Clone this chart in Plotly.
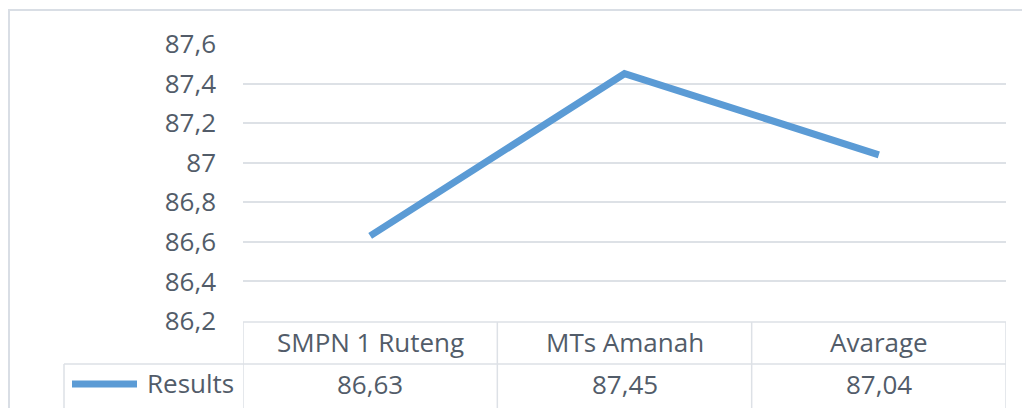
import plotly.graph_objects as go

categories = ["SMPN 1 Ruteng", "MTs Amanah", "Avarage"]
results = [86.63, 87.45, 87.04]
series_name = "Results"
tick_vals = [86.2, 86.4, 86.6, 86.8, 87.0, 87.2, 87.4, 87.6]
tick_text = ["86,2", "86,4", "86,6", "86,8", "87", "87,2", "87,4", "87,6"]

# page body has an 8px margin; figure is placed at (8, 8)
O = 8
W, H = 1022, 400
# plot area in page pixels: x 243..1006, y 44..321
L, R, T, B = 243 - O, W - (1006 - O), 44 - O, H - (321 - O)
PW, PH = W - L - R, H - T - B

def px(x):
    return (x - O - L) / PW

def py(y):
    return (H - B - (y - O)) / PH

TXT = "#525C69"
GRID = "#DDE1E6"
FONT = "Open Sans"
FS = 26
BLUE = "#5B9BD5"

fig = go.Figure()
fig.add_trace(go.Scatter(
    x=list(range(len(categories))), y=results, mode="lines",
    line=dict(color=BLUE, width=7), name=series_name, showlegend=False,
))

shapes = []
# outer chart border
shapes.append(dict(type="rect", xref="paper", yref="paper",
                   x0=px(9), x1=px(1040), y0=py(10), y1=py(420),
                   line=dict(color="#D9DEE5", width=2), layer="below"))
n = len(categories)
shapes.append(dict(type="line", xref="x", yref="paper", x0=-0.5, x1=n - 0.5,
                   y0=py(322), y1=py(322), line=dict(color=GRID, width=1.5)))
shapes.append(dict(type="line", xref="paper", yref="paper", x0=px(64), x1=1,
                   y0=py(364), y1=py(364), line=dict(color=GRID, width=1.5)))
shapes.append(dict(type="line", xref="paper", yref="paper", x0=px(64), x1=px(64),
                   y0=py(364), y1=py(420), line=dict(color=GRID, width=1.5)))
for i in range(n + 1):
    shapes.append(dict(type="line", xref="x", yref="paper", x0=i - 0.5, x1=i - 0.5,
                       y0=py(322), y1=py(420), line=dict(color=GRID, width=1.5)))
# legend key in table
shapes.append(dict(type="line", xref="paper", yref="paper", x0=px(72), x1=px(137),
                   y0=py(384), y1=py(384), line=dict(color=BLUE, width=7)))

annotations = []
for i, (c, v) in enumerate(zip(categories, results)):
    annotations.append(dict(x=i, y=py(342), xref="x", yref="paper", text=c,
                            showarrow=False, font=dict(family=FONT, size=FS, color=TXT),
                            xanchor="center", yanchor="middle"))
    annotations.append(dict(x=i, y=py(384), xref="x", yref="paper",
                            text=f"{v:.2f}".replace(".", ","),
                            showarrow=False, font=dict(family=FONT, size=FS, color=TXT),
                            xanchor="center", yanchor="middle"))
annotations.append(dict(x=px(236), y=py(383), xref="paper", yref="paper", text=series_name,
                        showarrow=False, font=dict(family=FONT, size=FS, color=TXT),
                        xanchor="right", yanchor="middle"))

fig.update_layout(
    width=W, height=H, margin=dict(l=L, r=R, t=T, b=B),
    paper_bgcolor="white", plot_bgcolor="white",
    showlegend=False, shapes=shapes, annotations=annotations,
    xaxis=dict(range=[-0.5, n - 0.5], showticklabels=False, showgrid=False,
               zeroline=False, showline=False, fixedrange=True),
    yaxis=dict(range=[86.2, 87.6], tickvals=tick_vals, ticktext=tick_text,
               showgrid=True, gridcolor=GRID, gridwidth=1.5, zeroline=False,
               showline=False, ticks="", ticklabelstandoff=26,
               tickfont=dict(family=FONT, size=FS, color=TXT)),
)
fig.write_html("out.html")
